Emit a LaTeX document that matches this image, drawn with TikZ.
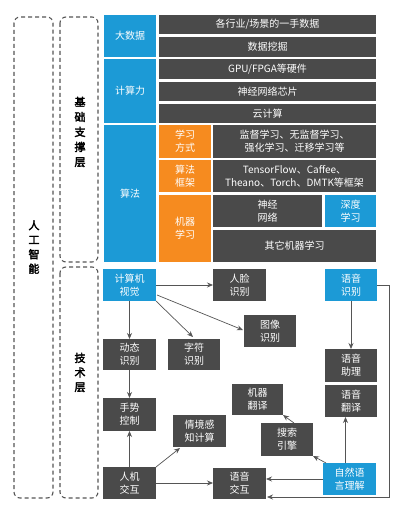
\documentclass[tikz,border=0pt]{standalone}
\usepackage{fontspec}
\newfontfamily\cjk{Noto Sans CJK SC}
\newfontfamily\cjkb{Noto Sans CJK SC}[FakeBold=3]
\usetikzlibrary{arrows.meta,calc}
\definecolor{aiblue}{HTML}{1C9AD6}
\definecolor{aidark}{HTML}{4A4A4A}
\definecolor{aiorange}{HTML}{F68B1F}
\definecolor{ailine}{HTML}{555555}
\tikzset{
  box/.style={anchor=north west, inner sep=0pt, outer sep=0pt, text=white, align=center,
    font=\cjk\fontsize{10}{13}\selectfont},
  bluebox/.style={box, fill=aiblue},
  darkbox/.style={box, fill=aidark},
  orangebox/.style={box, fill=aiorange},
  dashbox/.style={draw=ailine, line width=1.1pt, dash pattern=on 4pt off 3pt, rounded corners=6pt},
  title/.style={font=\cjkb\fontsize{11}{14.5}\selectfont, align=center, text=black},
  arr/.style={draw=ailine, line width=0.7pt, -{Stealth[length=6pt,width=5pt]}},
}
\newcommand{\bx}[7]{\node[#1, minimum width=#4pt, minimum height=#5pt] (#2) at (#3) {#7};}
\begin{document}
\begin{tikzpicture}[x=1pt,y=-1pt]
\useasboundingbox[fill=white] (0,0) rectangle (400,508);
% dashed frames
\draw[dashbox] (14,17) rectangle (53,498);
\draw[dashbox] (60,17) rectangle (98,262);
\draw[dashbox] (60,267) rectangle (98,498);
\node[title] (ai) at (34,247) {人\\工\\智\\能};
\node[title, font=\cjkb\fontsize{11}{15}\selectfont] (base) at (80,132) {基\\础\\支\\撑\\层};
\node[title] (tech) at (80,372.5) {技\\术\\层};
% top section
\bx{bluebox}{bigdata}{104,15}{52}{42}{}{大数据}
\bx{darkbox}{r1}{159,15}{217}{19}{}{各行业/场景的一手数据}
\bx{darkbox}{r2}{159,37}{217}{20}{}{数据挖掘}
\bx{bluebox}{compute}{104,59}{52}{64}{}{计算力}
\bx{darkbox}{r3}{159,59}{217}{20}{}{GPU/FPGA等硬件}
\bx{darkbox}{r4}{159,82}{217}{19}{}{神经网络芯片}
\bx{darkbox}{r5}{159,104}{217}{19}{}{云计算}
\bx{bluebox}{algo}{104,125}{52}{137}{}{算法}
\bx{orangebox}{ls}{159,125}{52}{33}{}{学习\\方式}
\bx{darkbox}{lst}{213,125}{163}{33}{}{监督学习、无监督学习、\\强化学习、迁移学习等}
\bx{orangebox}{fw}{159,160}{52}{32}{}{算法\\框架}
\bx{darkbox}{fwt}{213,160}{163}{32}{}{TensorFlow、Caffee、\\Theano、Torch、DMTK等框架}
\bx{orangebox}{ml}{159,195}{52}{67}{}{机器\\学习}
\bx{darkbox}{nn}{213,195}{109}{32}{}{神经\\网络}
\bx{bluebox}{dl}{325,195}{51}{32}{}{深度\\学习}
\bx{darkbox}{oml}{213,230}{163}{32}{}{其它机器学习}
% lower section
\bx{bluebox}{cv}{103,269}{53}{32}{}{计算机\\视觉}
\bx{darkbox}{face}{213,269}{53}{32}{}{人脸\\识别}
\bx{bluebox}{sr}{325,269}{52}{32}{}{语音\\识别}
\bx{darkbox}{img}{244,315}{52}{32}{}{图像\\识别}
\bx{darkbox}{dyn}{103,339}{53}{31}{}{动态\\识别}
\bx{darkbox}{chr}{168,339}{52}{31}{}{字符\\识别}
\bx{darkbox}{sa}{325,349}{52}{33}{}{语音\\助理}
\bx{darkbox}{mt}{232,384}{51}{31}{}{机器\\翻译}
\bx{darkbox}{st}{325,385}{52}{32}{}{语音\\翻译}
\bx{darkbox}{gc}{103,398}{53}{33}{}{手势\\控制}
\bx{darkbox}{ctx}{173,415}{53}{32}{}{情境感\\知计算}
\bx{darkbox}{se}{261,423}{52}{33}{}{搜索\\引擎}
\bx{darkbox}{hci}{103,467}{53}{32}{}{人机\\交互}
\bx{darkbox}{vi}{213,468}{53}{31}{}{语音\\交互}
\bx{bluebox}{nlu}{323,463}{53}{32}{}{自然语\\言理解}
% connectors
\draw[arr] (cv.east) -- (face.west);
\draw[arr] ($(cv.east)+(1,10)$) -- ($(img.west)+(-1,-1)$);
\draw[arr] ($(cv.south east)+(0,0)$) -- ($(chr.north)+(-1,-2)$);
\draw[arr] (cv.south) -- (dyn.north);
\draw[arr] (dyn.south) -- (gc.north);
\draw[arr] (hci.north) -- (gc.south);
\draw[arr] (hci.north east) -- ($(ctx.south west)+(7,1)$);
\draw[arr] (hci.east) -- (vi.west |- hci.east);
\draw[arr] (nlu.west) -- (nlu.west -| vi.east);
\draw[arr] ($(nlu.north west)+(3,0)$) -- ($(se.south east)+(0,0)$);
\draw[arr] ($(se.north)+(7,0)$) -- ($(mt.south east)+(0,0)$);
\coordinate (nlutop) at ($(nlu.north)+(-4,0)$);
\draw[arr] (nlutop) -- (nlutop |- st.south);
\draw[arr] (sr.south) -- (sa.north);
\coordinate (bend1) at (389,285);
\coordinate (bend2) at (389,497);
\coordinate (viend) at ($(vi.south east)+(1,-2)$);
\draw[arr] (sr.east) -- (sr.east -| bend1) -- (bend2) -- (bend2 -| viend);
\end{tikzpicture}
\end{document}
